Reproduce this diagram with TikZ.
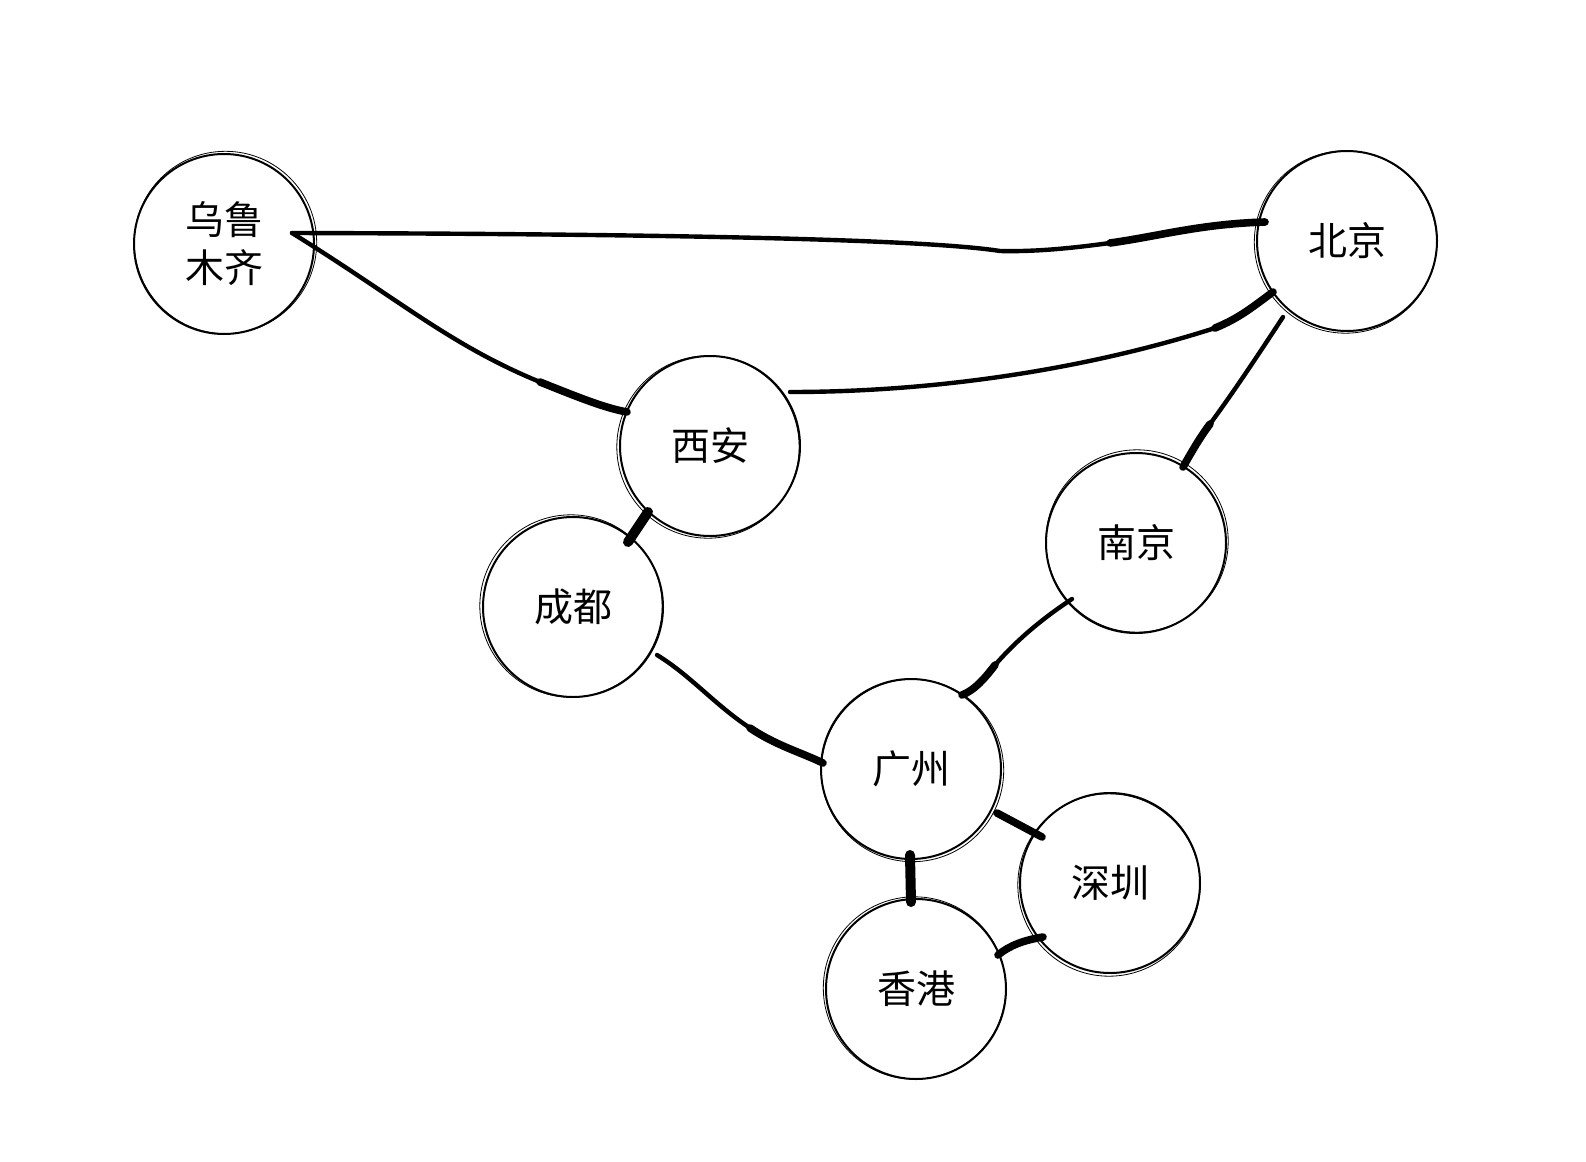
\documentclass[tikz,border=0pt]{standalone}
\usepackage{fontspec}
\setmainfont{Noto Sans CJK SC}
\usetikzlibrary{calc}
\begin{document}
\begin{tikzpicture}[x=0.5pt,y=-0.5pt,
  city/.style={circle,draw,line width=1pt,minimum size=90pt,inner sep=0pt,
    font=\fontsize{19.5}{24}\selectfont,align=center},
  sketch/.style={line width=0.4pt},
  edge/.style={line width=2.2pt,line cap=round},
  heavy/.style={line width=3.8pt,line cap=round},
  heavier/.style={line width=5pt,line cap=round}]
\useasboundingbox[fill=white] (0,0) rectangle (1586,1162);

% cities
\node[city] (wl) at (224,244) {乌鲁\\木齐};
\node[city] (bj) at (1347,241) {北京};
\node[city] (xa) at (710,446) {西安};
\node[city] (nj) at (1136,543) {南京};
\node[city] (cd) at (573,607) {成都};
\node[city] (gz) at (911,769) {广州};
\node[city] (sz) at (1110,883) {深圳};
\node[city] (hk) at (916,989) {香港};

% sketchy second strokes
\foreach \n/\dx/\dy in {wl/1.5/-1.5, bj/-1.5/1, xa/-2/1, nj/1/-2, cd/-2/-1, gz/1.5/1.5, sz/-1/2, hk/-1.5/-1}
  \draw[sketch] ($(\n)+(\dx,\dy)$) circle[radius=45.6pt];

% 乌鲁木齐 -- 北京
\draw[edge] ($(wl)+(68,-11)$) .. controls (700,234) and (930,240) .. (1000,251)
  .. controls (1040,252) and (1080,247) .. (1110,243);
\draw[heavy] (1110,243) .. controls (1160,236) and (1200,224) .. ($(bj)+(-82,-19)$);
% 乌鲁木齐 -- 西安
\draw[edge] ($(wl)+(68,-11)$) .. controls (400,300) and (450,345) .. (540,382);
\draw[heavy] (540,382) .. controls (580,398) and (605,408) .. ($(xa)+(-83,-34)$);
% 西安 -- 北京
\draw[edge] ($(xa)+(80,-54)$) .. controls (950,392) and (1100,365) .. (1215,328);
\draw[heavy] (1215,328) .. controls (1240,318) and (1255,305) .. ($(bj)+(-74,51)$);
% 北京 -- 南京
\draw[edge] ($(bj)+(-64,76)$) .. controls (1260,352) and (1235,390) .. (1210,424);
\draw[heavy] (1210,424) .. controls (1198,440) and (1190,455) .. ($(nj)+(47,-76)$);
% 西安 -- 成都
\draw[heavier] ($(xa)+(-62,66)$) -- ($(cd)+(55,-65)$);
% 成都 -- 广州
\draw[edge] ($(cd)+(84,48)$) .. controls (690,675) and (715,705) .. (750,728);
\draw[heavy] (750,728) .. controls (775,745) and (800,752) .. ($(gz)+(-88,-6)$);
% 南京 -- 广州
\draw[edge] ($(nj)+(-64,56)$) .. controls (1040,620) and (1015,642) .. (995,665);
\draw[heavy] (995,665) .. controls (985,678) and (975,690) .. ($(gz)+(51,-74)$);
% 广州 -- 深圳
\draw[heavy] ($(gz)+(86,44)$) -- ($(sz)+(-68,-46)$);
% 广州 -- 香港
\draw[heavier] ($(gz)+(-1,86)$) -- ($(hk)+(-5,-87)$);
% 深圳 -- 香港
\draw[heavy] ($(sz)+(-67,54)$) .. controls (1025,940) and (1010,945) .. ($(hk)+(82,-34)$);
\end{tikzpicture}
\end{document}
